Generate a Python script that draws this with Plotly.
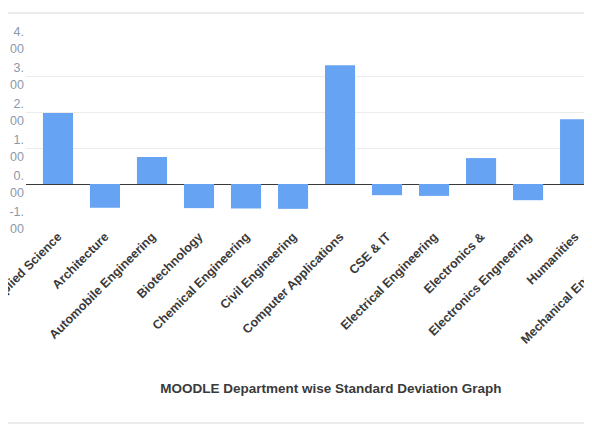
import plotly.graph_objects as go

departments = [
    "Applied Science", "Architecture", "Automobile Engineering", "Biotechnology",
    "Chemical Engineering", "Civil Engineering", "Computer Applications", "CSE & IT",
    "Electrical Engineering", "Electronics &", "Electronics Engneering", "Humanities",
    "Mechanical Engineering",
]
std_dev = [1.97, -0.66, 0.75, -0.67, -0.68, -0.69, 3.3, -0.31, -0.33, 0.72, -0.45, 1.8, 0.5]

ytick_vals = [-1, 0, 1, 2, 3, 4]
ytick_text = ["-1.<br>00", "0.<br>00", "1.<br>00", "2.<br>00", "3.<br>00", "4.<br>00"]

label_font = dict(family="Liberation Sans, Arial", size=12.5, color="#3a3a3a", weight="bold")

fig = go.Figure(go.Bar(
    x=departments, y=std_dev,
    marker=dict(color="#66a3f2", line_width=0),
    width=0.64,
))

# page body has an 8px margin, so the figure is 8px smaller than the window
fig.update_layout(
    width=584, height=419,
    margin=dict(l=18, r=0, t=32, b=207, autoexpand=False),
    paper_bgcolor="white", plot_bgcolor="white",
    showlegend=False,
    title=dict(
        text="MOODLE Department wise Standard Deviation Graph",
        x=0.553, y=0.093, xanchor="center", yanchor="middle",
        font=dict(family="Liberation Sans, Arial", size=13.5, color="#3a3a3a", weight="bold"),
    ),
)

fig.update_xaxes(
    range=[-0.68, 11.36],
    tickangle=-45,
    tickfont=label_font,
    showgrid=False, showline=False, ticks="",
    ticklabelstandoff=6,
    automargin=False,
)
fig.update_yaxes(
    range=[-1, 4],
    tickvals=ytick_vals, ticktext=ytick_text,
    tickfont=dict(family="Liberation Sans, Arial", size=12.5, color="#8c98aa"),
    showgrid=True, gridcolor="#ececec", gridwidth=1,
    zeroline=True, zerolinecolor="#3a3a3a", zerolinewidth=1,
    ticks="", ticklabelstandoff=1, automargin=False,
)

# cut-off label of the last category, past the right edge of the view
fig.add_annotation(
    x=1.071, y=-0.07, xref="paper", yref="paper",
    text=departments[12], showarrow=False, textangle=-45,
    xanchor="right", yanchor="top", font=label_font,
)

# card borders
fig.add_shape(type="line", xref="paper", yref="paper", x0=-0.05, x1=1.0, y0=1.15, y1=1.15,
              line=dict(color="#d8d8d8", width=1))
fig.add_shape(type="line", xref="paper", yref="paper", x0=-0.05, x1=1.0, y0=-1.128, y1=-1.128,
              line=dict(color="#d8d8d8", width=1))
fig.add_shape(type="rect", xref="paper", yref="paper", x0=0.449, x1=0.961, y0=1.205, y1=1.3,
              line=dict(color="#cfcfcf", width=1))

fig.write_html("out.html")
